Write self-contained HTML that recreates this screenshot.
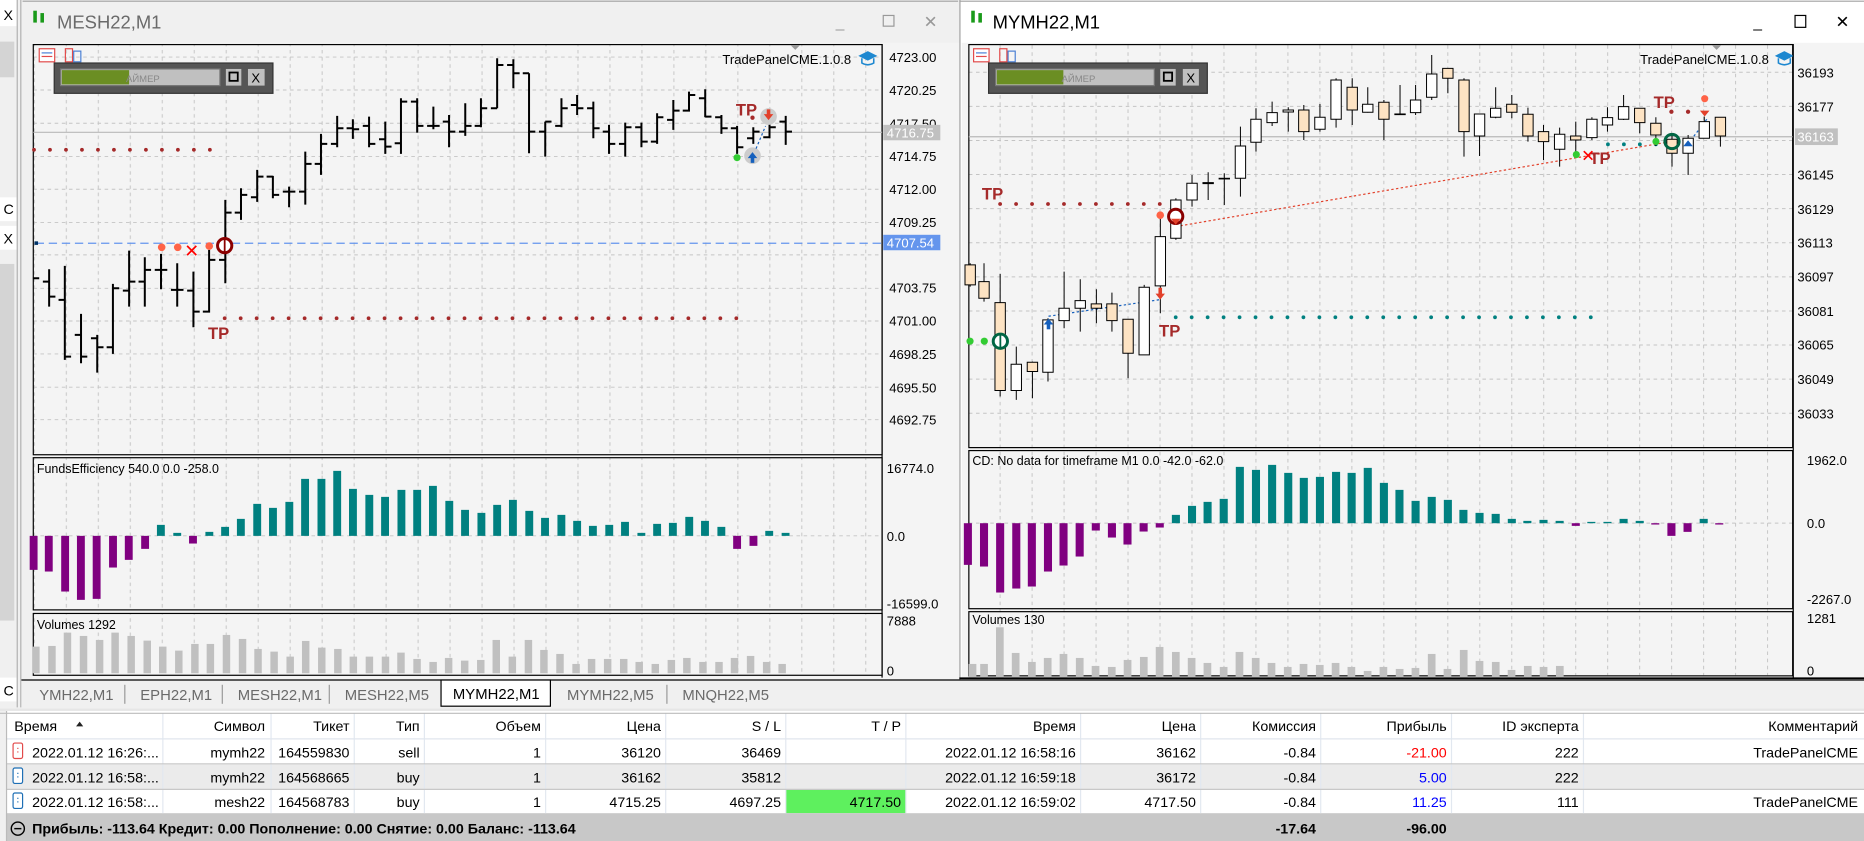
<!DOCTYPE html>
<html><head><meta charset="utf-8"><style>
html,body{margin:0;padding:0;background:#f0f0f0;overflow:hidden}
svg{display:block}
text{font-family:"Liberation Sans","DejaVu Sans",sans-serif}
</style></head><body>
<svg width="1864" height="841" viewBox="0 0 1568 707.4" preserveAspectRatio="none" xmlns="http://www.w3.org/2000/svg">
<defs>
<pattern id="gl" width="26.9" height="400" patternUnits="userSpaceOnUse" x="1.5" y="0"><line x1="0.5" y1="0" x2="0.5" y2="400" stroke="#c4c4c4" stroke-width="0.8" stroke-dasharray="3 3"/></pattern>
</defs>
<rect x="0" y="0" width="18" height="707" fill="#f0f0f0"/>
<rect x="0" y="0" width="14" height="22" fill="#fff"/>
<text x="3" y="17" font-size="12">X</text>
<rect x="0" y="35" width="12" height="30" fill="#d4d4d4"/>
<rect x="0" y="166" width="14" height="20" fill="#fff"/>
<text x="3" y="180" font-size="12">C</text>
<rect x="0" y="190" width="14" height="20" fill="#fff"/>
<text x="3" y="205" font-size="12">X</text>
<rect x="0" y="222" width="12" height="300" fill="#d4d4d4"/>
<rect x="0" y="570" width="14" height="20" fill="#fff"/>
<text x="3" y="585" font-size="12">C</text>
<line x1="14.5" y1="0" x2="14.5" y2="595" stroke="#b0b0b0"/>
<line x1="17.5" y1="0" x2="17.5" y2="595" stroke="#b0b0b0"/>

<rect x="19" y="0" width="787" height="572" fill="#f0f0f0"/>
<line x1="19" y1="1" x2="806" y2="1" stroke="#a0a0a0"/>
<rect x="28" y="9" width="3" height="10" fill="#1a9a1a"/><rect x="34" y="11" width="3" height="8" fill="#1a9a1a"/>
<text x="48" y="24" font-size="15.5" fill="#6a6a6a">MESH22,M1</text>
<text x="703" y="23" font-size="13" fill="#999">_</text>
<rect x="743" y="13" width="9" height="9" fill="none" stroke="#999"/>
<text x="777" y="23" font-size="14" fill="#999">✕</text>
<rect x="27" y="36" width="780" height="536" fill="#f4f4f4"/>
<rect x="28" y="37.5" width="714" height="345" fill="url(#gl)"/>
<rect x="28" y="385" width="714" height="128" fill="url(#gl)"/>
<rect x="28" y="516" width="714" height="52" fill="url(#gl)"/>
<g stroke="#c4c4c4" stroke-width="0.8" stroke-dasharray="3 3">
<line x1="28" x2="742" y1="48" y2="48"/><line x1="28" x2="742" y1="75.7" y2="75.7"/><line x1="28" x2="742" y1="103.7" y2="103.7"/><line x1="28" x2="742" y1="131.7" y2="131.7"/><line x1="28" x2="742" y1="159.2" y2="159.2"/><line x1="28" x2="742" y1="187.2" y2="187.2"/><line x1="28" x2="742" y1="214.4" y2="214.4"/><line x1="28" x2="742" y1="242.5" y2="242.5"/><line x1="28" x2="742" y1="270" y2="270"/><line x1="28" x2="742" y1="297.7" y2="297.7"/><line x1="28" x2="742" y1="325.7" y2="325.7"/><line x1="28" x2="742" y1="353" y2="353"/>
<line x1="28" x2="742" y1="450.7" y2="450.7"/>
</g>
<rect x="28" y="37.5" width="714" height="345" fill="none" stroke="#000"/>
<rect x="28" y="385" width="714" height="128" fill="none" stroke="#000"/>
<rect x="28" y="516" width="714" height="52" fill="none" stroke="#000"/>
<line x1="742" y1="37" x2="742" y2="570" stroke="#000"/>
<g font-size="11" fill="#000">
<text x="748" y="52">4723.00</text><text x="748" y="80">4720.25</text><text x="748" y="108">4717.50</text><text x="748" y="135.5">4714.75</text><text x="748" y="163">4712.00</text><text x="748" y="191">4709.25</text><text x="748" y="246">4703.75</text><text x="748" y="274">4701.00</text><text x="748" y="302">4698.25</text><text x="748" y="330">4695.50</text><text x="748" y="357">4692.75</text>
<text x="746" y="398">16774.0</text><text x="746" y="455">0.0</text><text x="746" y="512">-16599.0</text>
<text x="746" y="526">7888</text><text x="746" y="568">0</text>
</g>
<rect x="743" y="105" width="48" height="13" fill="#c0c0c0"/><text x="746" y="115.5" font-size="11" fill="#fff">4716.75</text>
<rect x="743" y="197.5" width="48" height="13" fill="#6495ed"/><text x="746" y="208" font-size="11" fill="#fff">4707.54</text>
<line x1="28" y1="111.3" x2="742" y2="111.3" stroke="#b8b8b8"/>
<line x1="30" y1="204.6" x2="742" y2="204.6" stroke="#6495ed" stroke-dasharray="7 4"/>
<rect x="29" y="203" width="3" height="3" fill="#036"/>
<line x1="28.6" y1="126" x2="178" y2="126" stroke="#a52a2a" stroke-width="3.2" stroke-linecap="round" stroke-dasharray="0 13.45"/>
<line x1="189" y1="267.7" x2="622" y2="267.7" stroke="#a52a2a" stroke-width="3.2" stroke-linecap="round" stroke-dasharray="0 13.45"/>
<g transform="translate(0,33.6) scale(0.43975,0.28035)" stroke="#000" fill="none">
<g stroke-width="2" vector-effect="non-scaling-stroke">
<path vector-effect="non-scaling-stroke" d="M63 715h12 M94 688v112M82 725h12M94 770h12 M124 678v282M112 780h12M124 950h12 M155 822v148M143 885h12M155 950h12 M186 885v113M174 895h12M186 922h12 M216 732v210M204 922h12M216 745h12 M247 632v168M235 752h12M247 725h12 M277 652v148M265 725h12M277 690h12 M308 642v106M296 690h12M308 690h12 M339 670v130M327 750h12M339 750h12 M370 695v167M358 752h12M370 815h12 M400 630v188M388 815h12M400 660h12 M431 480v250M419 660h12M431 518h12 M461 445v95M449 518h12M461 465h12 M492 390v96M480 472h12M492 410h12 M522 408v67M510 410h12M522 465h12 M553 440v62M541 455h12M553 455h12 M584 335v159M572 455h12M584 372h12 M614 282v123M602 372h12M614 312h12 M645 228v94M633 312h12M645 265h12 M675 238v59M663 265h12M675 268h12 M706 230v92M694 258h12M706 312h12 M737 245v97M725 298h12M737 320h12 M767 175v167M755 310h12M767 185h12 M798 175v103M786 185h12M798 258h12 M829 200v68M817 258h12M829 258h12 M859 225v97M847 245h12M859 275h12 M890 190v98M878 275h12M890 258h12 M920 175v87M908 258h12M920 205h12 M951 55v150M939 205h12M951 75h12 M982 58v87M970 75h12M982 100h12 M1012 100v240M1000 100h12M1012 275h12 M1043 245v105M1031 275h12M1043 245h12 M1074 175v87M1062 258h12M1074 205h12 M1104 165v60M1092 195h12M1104 205h12 M1135 185v110M1123 205h12M1135 265h12 M1165 255v87M1153 275h12M1165 312h12 M1196 248v102M1184 312h12M1196 262h12 M1227 248v74M1215 262h12M1227 305h12 M1257 220v92M1245 305h12M1257 232h12 M1288 180v90M1276 240h12M1288 212h12 M1318 155v60M1306 212h12M1318 165h12 M1349 148v84M1337 175h12M1349 230h12 M1380 225v57M1368 232h12M1380 265h12 M1410 258v84M1398 265h12M1410 322h12 M1441 262v50M1429 295h12M1441 275h12 M1472 242v53M1460 292h12M1472 262h12 M1503 228v87M1491 245h12M1503 275h12"/>
</g></g>
<circle cx="136" cy="208" r="3.2" fill="#ff6347"/><circle cx="149.5" cy="208" r="3.2" fill="#ff6347"/><circle cx="176" cy="207" r="3.2" fill="#ff6347"/>
<text x="155" y="216" font-size="15" font-weight="bold" fill="#f00">✕</text>
<circle cx="189" cy="206.6" r="6" fill="#fff" stroke="#8b0000" stroke-width="2.5"/><line x1="189" y1="201" x2="189" y2="212" stroke="#8b0000" stroke-width="1.5"/>
<text x="175" y="285" font-size="14" font-weight="bold" fill="#a52a2a">TP</text>
<text x="619" y="97" font-size="14" font-weight="bold" fill="#a52a2a">TP</text>
<circle cx="633" cy="99" r="1.8" fill="#a52a2a"/>
<circle cx="646.5" cy="98" r="7" fill="#ccc"/><path d="M642.5 96h8l-4 5z" fill="#e2402a"/><rect x="645" y="92" width="3" height="5" fill="#e2402a"/>
<circle cx="633" cy="131" r="7" fill="#ccc"/><path d="M629 133h8l-4-5z" fill="#1560bd"/><rect x="631.5" y="132" width="3" height="5" fill="#1560bd"/>
<circle cx="620" cy="132.6" r="3" fill="#3c3"/>
<line x1="636" y1="125" x2="644" y2="106" stroke="#1560bd" stroke-dasharray="2 2"/>
<rect x="33" y="41" width="13" height="11" fill="#fff" stroke="#e24a4a"/><line x1="35" y1="44.5" x2="44" y2="44.5" stroke="#4a7fd4"/><line x1="35" y1="47.5" x2="44" y2="47.5" stroke="#e24a4a"/>
<rect x="55" y="41" width="6" height="11" fill="none" stroke="#e24a4a"/><rect x="62" y="43" width="6" height="9" fill="none" stroke="#4a7fd4"/>
<rect x="45.6" y="53" width="184" height="25.5" fill="#555" stroke="#333"/>
<rect x="51" y="58" width="134" height="14" fill="#c0c0c0" stroke="#777"/>
<rect x="52" y="59" width="56.6" height="12" fill="#6b8e23"/>
<text x="106" y="69" font-size="8" fill="#888">АЙМЕР</text>
<rect x="190" y="58" width="13" height="14" fill="#c0c0c0"/><rect x="193" y="61" width="7" height="7" fill="none" stroke="#000" stroke-width="1.5"/>
<rect x="208.6" y="58" width="14" height="14" fill="#c0c0c0"/><text x="211.5" y="69.5" font-size="11">X</text>
<text x="716" y="54" font-size="11" text-anchor="end">TradePanelCME.1.0.8</text>
<path d="M722 47l8-4 8 4-8 4z" fill="#1e88d0"/><path d="M725 49v4q5 3 10 0v-4" fill="none" stroke="#1e88d0" stroke-width="1.3"/>
<path d="M665 38h8l-4 4z" fill="#999"/>
<text x="31" y="398" font-size="10.5">FundsEfficiency 540.0 0.0 -258.0</text>
<g transform="translate(0,370) scale(0.5097,0.28035)">
<g fill="#800080">
<rect x="49" y="288" width="13" height="102"/><rect x="74" y="288" width="13" height="107"/><rect x="101" y="288" width="13" height="167"/><rect x="127" y="288" width="13" height="192"/><rect x="153" y="288" width="13" height="189"/><rect x="180" y="288" width="13" height="95"/><rect x="206" y="288" width="13" height="72"/><rect x="233" y="288" width="13" height="39"/><rect x="312" y="288" width="13" height="23"/><rect x="1210" y="288" width="13" height="39"/><rect x="1237" y="288" width="13" height="30"/>
</g>
<g fill="#008080">
<rect x="259" y="255" width="13" height="33"/><rect x="286" y="279" width="13" height="9"/><rect x="339" y="276" width="13" height="12"/><rect x="365" y="261" width="13" height="27"/><rect x="391" y="237" width="13" height="51"/><rect x="418" y="192" width="13" height="96"/><rect x="444" y="204" width="13" height="84"/><rect x="471" y="186" width="13" height="102"/><rect x="497" y="117" width="13" height="171"/><rect x="524" y="117" width="13" height="171"/><rect x="550" y="93" width="13" height="195"/><rect x="576" y="147" width="13" height="141"/><rect x="603" y="165" width="13" height="123"/><rect x="629" y="171" width="13" height="117"/><rect x="656" y="150" width="13" height="138"/><rect x="682" y="150" width="13" height="138"/><rect x="708" y="138" width="13" height="150"/><rect x="735" y="183" width="13" height="105"/><rect x="761" y="210" width="13" height="78"/><rect x="788" y="219" width="13" height="69"/><rect x="814" y="195" width="13" height="93"/><rect x="840" y="180" width="13" height="108"/><rect x="867" y="213" width="13" height="75"/><rect x="893" y="234" width="13" height="54"/><rect x="920" y="225" width="13" height="63"/><rect x="946" y="243" width="13" height="45"/><rect x="972" y="258" width="13" height="30"/><rect x="999" y="255" width="13" height="33"/><rect x="1025" y="246" width="13" height="42"/><rect x="1052" y="279" width="13" height="9"/><rect x="1078" y="252" width="13" height="36"/><rect x="1104" y="249" width="13" height="39"/><rect x="1131" y="231" width="13" height="57"/><rect x="1157" y="243" width="13" height="45"/><rect x="1184" y="261" width="13" height="27"/><rect x="1263" y="273" width="13" height="15"/><rect x="1290" y="279" width="13" height="9"/>
</g></g>
<text x="31" y="529" font-size="10.5">Volumes 1292</text>
<g transform="translate(0,471) scale(0.4829,0.28035)" fill="#c0c0c0">
<rect x="56" y="260" width="13" height="80"/><rect x="84" y="258" width="13" height="82"/><rect x="111" y="218" width="13" height="122"/><rect x="139" y="228" width="13" height="112"/><rect x="167" y="240" width="13" height="100"/><rect x="194" y="218" width="13" height="122"/><rect x="222" y="228" width="13" height="112"/><rect x="250" y="242" width="13" height="98"/><rect x="277" y="260" width="13" height="80"/><rect x="305" y="272" width="13" height="68"/><rect x="333" y="252" width="13" height="88"/><rect x="360" y="252" width="13" height="88"/><rect x="388" y="225" width="13" height="115"/><rect x="416" y="237" width="13" height="103"/><rect x="443" y="267" width="13" height="73"/><rect x="471" y="275" width="13" height="65"/><rect x="499" y="290" width="13" height="50"/><rect x="526" y="243" width="13" height="97"/><rect x="554" y="263" width="13" height="77"/><rect x="582" y="267" width="13" height="73"/><rect x="609" y="290" width="13" height="50"/><rect x="637" y="290" width="13" height="50"/><rect x="665" y="290" width="13" height="50"/><rect x="692" y="278" width="13" height="62"/><rect x="720" y="297" width="13" height="43"/><rect x="748" y="306" width="13" height="34"/><rect x="775" y="294" width="13" height="46"/><rect x="803" y="302" width="13" height="38"/><rect x="831" y="300" width="13" height="40"/><rect x="858" y="240" width="13" height="100"/><rect x="886" y="290" width="13" height="50"/><rect x="914" y="240" width="13" height="100"/><rect x="941" y="270" width="13" height="70"/><rect x="969" y="282" width="13" height="58"/><rect x="997" y="312" width="13" height="28"/><rect x="1024" y="297" width="13" height="43"/><rect x="1052" y="297" width="13" height="43"/><rect x="1080" y="297" width="13" height="43"/><rect x="1107" y="306" width="13" height="34"/><rect x="1135" y="312" width="13" height="28"/><rect x="1163" y="300" width="13" height="40"/><rect x="1190" y="294" width="13" height="46"/><rect x="1218" y="306" width="13" height="34"/><rect x="1246" y="306" width="13" height="34"/><rect x="1273" y="294" width="13" height="46"/><rect x="1301" y="288" width="13" height="52"/><rect x="1329" y="306" width="13" height="34"/><rect x="1356" y="312" width="13" height="28"/>
</g>

<rect x="807" y="0" width="761" height="572" fill="#fff"/>
<line x1="807" y1="1" x2="1568" y2="1" stroke="#a0a0a0"/>
<line x1="807.5" y1="0" x2="807.5" y2="572" stroke="#a0a0a0"/>
<rect x="817" y="9" width="3" height="10" fill="#1a9a1a"/><rect x="823" y="11" width="3" height="8" fill="#1a9a1a"/>
<text x="835" y="24" font-size="15.5" fill="#000">MYMH22,M1</text>
<text x="1475" y="23" font-size="13">_</text>
<rect x="1510" y="13" width="9" height="10" fill="none" stroke="#000"/>
<text x="1544" y="23" font-size="14">✕</text>
<rect x="809" y="36" width="759" height="536" fill="#f4f4f4"/>
<g stroke="#c4c4c4" stroke-width="0.8" stroke-dasharray="3 3">
<line x1="841.3" x2="841.3" y1="38" y2="568"/><line x1="868.2" x2="868.2" y1="38" y2="568"/><line x1="895.1" x2="895.1" y1="38" y2="568"/><line x1="922" x2="922" y1="38" y2="568"/><line x1="948.9" x2="948.9" y1="38" y2="568"/><line x1="975.8" x2="975.8" y1="38" y2="568"/><line x1="1002.7" x2="1002.7" y1="38" y2="568"/><line x1="1029.6" x2="1029.6" y1="38" y2="568"/><line x1="1056.5" x2="1056.5" y1="38" y2="568"/><line x1="1083.4" x2="1083.4" y1="38" y2="568"/><line x1="1110.3" x2="1110.3" y1="38" y2="568"/><line x1="1137.2" x2="1137.2" y1="38" y2="568"/><line x1="1164.1" x2="1164.1" y1="38" y2="568"/><line x1="1191" x2="1191" y1="38" y2="568"/><line x1="1217.9" x2="1217.9" y1="38" y2="568"/><line x1="1244.8" x2="1244.8" y1="38" y2="568"/><line x1="1271.7" x2="1271.7" y1="38" y2="568"/><line x1="1298.6" x2="1298.6" y1="38" y2="568"/><line x1="1325.5" x2="1325.5" y1="38" y2="568"/><line x1="1352.4" x2="1352.4" y1="38" y2="568"/><line x1="1379.3" x2="1379.3" y1="38" y2="568"/><line x1="1406.2" x2="1406.2" y1="38" y2="568"/><line x1="1433.1" x2="1433.1" y1="38" y2="568"/><line x1="1460" x2="1460" y1="38" y2="568"/><line x1="1486.9" x2="1486.9" y1="38" y2="568"/>
<line x1="815" x2="1508" y1="60.8" y2="60.8"/><line x1="815" x2="1508" y1="89.5" y2="89.5"/><line x1="815" x2="1508" y1="118.2" y2="118.2"/><line x1="815" x2="1508" y1="146.8" y2="146.8"/><line x1="815" x2="1508" y1="175.5" y2="175.5"/><line x1="815" x2="1508" y1="204.2" y2="204.2"/><line x1="815" x2="1508" y1="232.9" y2="232.9"/><line x1="815" x2="1508" y1="261.6" y2="261.6"/><line x1="815" x2="1508" y1="290.2" y2="290.2"/><line x1="815" x2="1508" y1="318.9" y2="318.9"/><line x1="815" x2="1508" y1="347.6" y2="347.6"/>
<line x1="815" x2="1508" y1="440" y2="440"/>
</g>
<rect x="815" y="37.5" width="693" height="339" fill="none" stroke="#000"/>
<rect x="815" y="379" width="693" height="133" fill="none" stroke="#000"/>
<rect x="815" y="514.5" width="693" height="54" fill="none" stroke="#000"/>
<g font-size="11">
<text x="1512" y="65">36193</text><text x="1512" y="94">36177</text><text x="1512" y="151">36145</text><text x="1512" y="180">36129</text><text x="1512" y="208">36113</text><text x="1512" y="237">36097</text><text x="1512" y="266">36081</text><text x="1512" y="294">36065</text><text x="1512" y="323">36049</text><text x="1512" y="352">36033</text>
<text x="1520" y="391">1962.0</text><text x="1520" y="444">0.0</text><text x="1520" y="508">-2267.0</text>
<text x="1520" y="524">1281</text><text x="1520" y="568">0</text>
</g>
<rect x="1510" y="108" width="36" height="14" fill="#c0c0c0"/><text x="1512" y="119" font-size="11" fill="#fff">36163</text>
<line x1="815" y1="115" x2="1508" y2="115" stroke="#b8b8b8"/>
<line x1="841.3" y1="171.6" x2="976" y2="171.6" stroke="#a52a2a" stroke-width="3.2" stroke-linecap="round" stroke-dasharray="0 13.43"/>
<line x1="989" y1="266.9" x2="1340" y2="266.9" stroke="#008080" stroke-width="3.2" stroke-linecap="round" stroke-dasharray="0 13.43"/>
<line x1="1352.6" y1="121.4" x2="1394" y2="121.4" stroke="#008080" stroke-width="3.2" stroke-linecap="round" stroke-dasharray="0 13.43"/>
<line x1="989" y1="190.6" x2="1406" y2="119" stroke="#e2402a" stroke-dasharray="2 2"/>
<line x1="882" y1="266" x2="976" y2="252" stroke="#1560bd" stroke-dasharray="2 2"/>
<line x1="1420" y1="121" x2="1436" y2="100" stroke="#1560bd" stroke-dasharray="2 2"/>
<g transform="translate(807.4,0) scale(0.4847,0.2803)" stroke="#000">
<g stroke-width="1" fill="none">
<path vector-effect="non-scaling-stroke" d="M18 790v70M42 790v115M70 822v368M98 1040v160M126 1085v110M153 955v190M181 815v170M209 838v157M237 868v102M264 878v117M292 958v177M320 855v210M348 655v285M375 595v125M403 525v95M431 517v83M459 520v95M487 380v210M514 325v130M542 305v73M570 322v73M597 315v105M625 312v83M653 235v148M681 235v140M708 262v76M736 300v120M764 255v90M791 255v90M819 165v135M847 205v75M875 235v235M902 342v126M930 262v93M958 285v70M986 323v102M1013 375v105M1041 383v117M1069 365v95M1097 352v68M1124 322v73M1152 285v75M1180 325v75M1208 352v86M1236 400v100M1264 405v120M1292 350v65M1320 352v88"/>
</g>
<g stroke-width="1">
<rect vector-effect="non-scaling-stroke" fill="#fde3c3" x="9" y="795" width="18" height="60"/>
<rect vector-effect="non-scaling-stroke" fill="#fde3c3" x="33" y="845" width="18" height="50"/>
<rect vector-effect="non-scaling-stroke" fill="#fde3c3" x="61" y="908" width="18" height="264"/>
<rect vector-effect="non-scaling-stroke" fill="#fff" x="89" y="1093" width="18" height="79"/>
<rect vector-effect="non-scaling-stroke" fill="#fde3c3" x="117" y="1087" width="18" height="28"/>
<rect vector-effect="non-scaling-stroke" fill="#fff" x="144" y="960" width="18" height="157"/>
<rect vector-effect="non-scaling-stroke" fill="#fff" x="172" y="925" width="18" height="37"/>
<rect vector-effect="non-scaling-stroke" fill="#fff" x="200" y="902" width="18" height="23"/>
<rect vector-effect="non-scaling-stroke" fill="#fde3c3" x="228" y="912" width="18" height="13"/>
<rect vector-effect="non-scaling-stroke" fill="#fde3c3" x="255" y="912" width="18" height="50"/>
<rect vector-effect="non-scaling-stroke" fill="#fde3c3" x="283" y="958" width="18" height="102"/>
<rect vector-effect="non-scaling-stroke" fill="#fff" x="311" y="862" width="18" height="203"/>
<rect vector-effect="non-scaling-stroke" fill="#fff" x="339" y="710" width="18" height="148"/>
<rect vector-effect="non-scaling-stroke" fill="#fff" x="366" y="600" width="18" height="115"/>
<rect vector-effect="non-scaling-stroke" fill="#fff" x="394" y="550" width="18" height="50"/>
<rect vector-effect="non-scaling-stroke" fill="#fff" x="422" y="548" width="18" height="3"/>
<rect vector-effect="non-scaling-stroke" fill="#fff" x="450" y="535" width="18" height="2"/>
<rect vector-effect="non-scaling-stroke" fill="#fff" x="478" y="438" width="18" height="97"/>
<rect vector-effect="non-scaling-stroke" fill="#fff" x="505" y="358" width="18" height="69"/>
<rect vector-effect="non-scaling-stroke" fill="#fff" x="533" y="338" width="18" height="30"/>
<rect vector-effect="non-scaling-stroke" fill="#fff" x="561" y="330" width="18" height="6"/>
<rect vector-effect="non-scaling-stroke" fill="#fde3c3" x="588" y="330" width="18" height="65"/>
<rect vector-effect="non-scaling-stroke" fill="#fff" x="616" y="352" width="18" height="36"/>
<rect vector-effect="non-scaling-stroke" fill="#fff" x="644" y="240" width="18" height="118"/>
<rect vector-effect="non-scaling-stroke" fill="#fde3c3" x="672" y="262" width="18" height="68"/>
<rect vector-effect="non-scaling-stroke" fill="#fff" x="699" y="313" width="18" height="24"/>
<rect vector-effect="non-scaling-stroke" fill="#fde3c3" x="727" y="307" width="18" height="51"/>
<rect vector-effect="non-scaling-stroke" fill="#fff" x="755" y="342" width="18" height="2"/>
<rect vector-effect="non-scaling-stroke" fill="#fff" x="782" y="300" width="18" height="38"/>
<rect vector-effect="non-scaling-stroke" fill="#fff" x="810" y="222" width="18" height="70"/>
<rect vector-effect="non-scaling-stroke" fill="#fde3c3" x="838" y="205" width="18" height="30"/>
<rect vector-effect="non-scaling-stroke" fill="#fde3c3" x="866" y="240" width="18" height="155"/>
<rect vector-effect="non-scaling-stroke" fill="#fff" x="893" y="342" width="18" height="66"/>
<rect vector-effect="non-scaling-stroke" fill="#fff" x="921" y="325" width="18" height="27"/>
<rect vector-effect="non-scaling-stroke" fill="#fde3c3" x="949" y="313" width="18" height="24"/>
<rect vector-effect="non-scaling-stroke" fill="#fde3c3" x="977" y="343" width="18" height="65"/>
<rect vector-effect="non-scaling-stroke" fill="#fde3c3" x="1004" y="395" width="18" height="30"/>
<rect vector-effect="non-scaling-stroke" fill="#fff" x="1032" y="403" width="18" height="45"/>
<rect vector-effect="non-scaling-stroke" fill="#fde3c3" x="1060" y="408" width="18" height="12"/>
<rect vector-effect="non-scaling-stroke" fill="#fff" x="1088" y="358" width="18" height="55"/>
<rect vector-effect="non-scaling-stroke" fill="#fff" x="1115" y="353" width="18" height="22"/>
<rect vector-effect="non-scaling-stroke" fill="#fff" x="1143" y="320" width="18" height="38"/>
<rect vector-effect="non-scaling-stroke" fill="#fde3c3" x="1171" y="325" width="18" height="43"/>
<rect vector-effect="non-scaling-stroke" fill="#fde3c3" x="1199" y="370" width="18" height="35"/>
<rect vector-effect="non-scaling-stroke" fill="#fde3c3" x="1227" y="418" width="18" height="42"/>
<rect vector-effect="non-scaling-stroke" fill="#fff" x="1255" y="415" width="18" height="45"/>
<rect vector-effect="non-scaling-stroke" fill="#fff" x="1283" y="365" width="18" height="50"/>
<rect vector-effect="non-scaling-stroke" fill="#fde3c3" x="1311" y="352" width="18" height="56"/>
</g></g>
<text x="826" y="168" font-size="14" font-weight="bold" fill="#a52a2a">TP</text>
<text x="975" y="283" font-size="14" font-weight="bold" fill="#a52a2a">TP</text>
<text x="1391" y="91" font-size="14" font-weight="bold" fill="#a52a2a">TP</text>
<text x="1337" y="138" font-size="14" font-weight="bold" fill="#a52a2a">TP</text>
<text x="1330" y="136" font-size="14" font-weight="bold" fill="#f00">✕</text>
<circle cx="976" cy="181" r="3.2" fill="#ff6347"/>
<circle cx="989" cy="182" r="6" fill="#fff" stroke="#8b0000" stroke-width="2.5"/><path d="M985 184h8l-4 5z" fill="#e2402a"/>
<path d="M972 247h8l-4 5z" fill="#e2402a"/><rect x="974.5" y="242" width="3" height="6" fill="#e2402a"/>
<path d="M878 273h8l-4-5z" fill="#1560bd"/><rect x="880.5" y="272" width="3" height="5" fill="#1560bd"/>
<circle cx="816" cy="287" r="3" fill="#3c3"/><circle cx="828" cy="287" r="3" fill="#3c3"/>
<circle cx="841.5" cy="287" r="6" fill="#fff" stroke="#064" stroke-width="2.5"/><line x1="841.5" y1="282" x2="841.5" y2="293" stroke="#064" stroke-width="1.5"/>
<circle cx="1326" cy="130" r="3" fill="#3c3"/>
<circle cx="1393" cy="119" r="3" fill="#3c3"/>
<circle cx="1406.5" cy="119" r="6" fill="none" stroke="#064" stroke-width="2.5"/>
<path d="M1416 123h8l-4-5z" fill="#1560bd"/>
<circle cx="1434" cy="83" r="3" fill="#ff6347"/><path d="M1430 93h8l-4 5z" fill="#e2402a"/>
<circle cx="1406" cy="94" r="1.8" fill="#a52a2a"/><circle cx="1420" cy="94" r="1.8" fill="#a52a2a"/>
<rect x="819" y="41" width="13" height="11" fill="#fff" stroke="#e24a4a"/><line x1="821" y1="44.5" x2="830" y2="44.5" stroke="#4a7fd4"/><line x1="821" y1="47.5" x2="830" y2="47.5" stroke="#e24a4a"/>
<rect x="841" y="41" width="6" height="11" fill="none" stroke="#e24a4a"/><rect x="848" y="43" width="6" height="9" fill="none" stroke="#4a7fd4"/>
<rect x="831.6" y="53" width="184" height="25.5" fill="#555" stroke="#333"/>
<rect x="837.5" y="58" width="133.5" height="14" fill="#c0c0c0" stroke="#777"/>
<rect x="838.5" y="59" width="56" height="12" fill="#6b8e23"/>
<text x="893" y="69" font-size="8" fill="#888">АЙМЕР</text>
<rect x="976" y="58" width="13" height="14" fill="#c0c0c0"/><rect x="979" y="61" width="7" height="7" fill="none" stroke="#000" stroke-width="1.5"/>
<rect x="995" y="58" width="13.5" height="14" fill="#c0c0c0"/><text x="998" y="69.5" font-size="11">X</text>
<text x="1488" y="54" font-size="11" text-anchor="end">TradePanelCME.1.0.8</text>
<path d="M1493 47l8-4 8 4-8 4z" fill="#1e88d0"/><path d="M1496 49v4q5 3 10 0v-4" fill="none" stroke="#1e88d0" stroke-width="1.3"/>
<path d="M1440 38h8l-4 4z" fill="#999"/>
<text x="818" y="391" font-size="10.5">CD: No data for timeframe M1 0.0 -42.0 -62.0</text>
<g transform="translate(807.4,370) scale(0.4847,0.28035)">
<g fill="#800080">
<rect x="7" y="250" width="14" height="125"/><rect x="35" y="250" width="14" height="130"/><rect x="63" y="250" width="14" height="208"/><rect x="91" y="250" width="14" height="196"/><rect x="118" y="250" width="14" height="190"/><rect x="146" y="250" width="14" height="145"/><rect x="173" y="250" width="14" height="127"/><rect x="201" y="250" width="14" height="100"/><rect x="229" y="250" width="14" height="22"/><rect x="257" y="250" width="14" height="43"/><rect x="284" y="250" width="14" height="64"/><rect x="312" y="250" width="14" height="25"/><rect x="340" y="250" width="14" height="13"/><rect x="1062" y="250" width="14" height="8"/><rect x="1200" y="250" width="14" height="4"/><rect x="1228" y="250" width="14" height="38"/><rect x="1256" y="250" width="14" height="26"/><rect x="1311" y="250" width="14" height="4"/>
</g>
<g fill="#008080">
<rect x="368" y="225" width="14" height="25"/><rect x="396" y="198" width="14" height="52"/><rect x="423" y="186" width="14" height="64"/><rect x="451" y="177" width="14" height="73"/><rect x="479" y="81" width="14" height="169"/><rect x="507" y="90" width="14" height="160"/><rect x="535" y="75" width="14" height="175"/><rect x="563" y="99" width="14" height="151"/><rect x="590" y="114" width="14" height="136"/><rect x="618" y="111" width="14" height="139"/><rect x="646" y="96" width="14" height="154"/><rect x="673" y="99" width="14" height="151"/><rect x="701" y="84" width="14" height="166"/><rect x="729" y="129" width="14" height="121"/><rect x="756" y="150" width="14" height="100"/><rect x="784" y="183" width="14" height="67"/><rect x="812" y="171" width="14" height="79"/><rect x="840" y="180" width="14" height="70"/><rect x="867" y="210" width="14" height="40"/><rect x="895" y="219" width="14" height="31"/><rect x="923" y="222" width="14" height="28"/><rect x="951" y="237" width="14" height="13"/><rect x="978" y="243" width="14" height="7"/><rect x="1006" y="240" width="14" height="10"/><rect x="1034" y="243" width="14" height="7"/><rect x="1089" y="246" width="14" height="4"/><rect x="1117" y="246" width="14" height="4"/><rect x="1145" y="237" width="14" height="13"/><rect x="1173" y="243" width="14" height="7"/><rect x="1284" y="237" width="14" height="13"/>
</g></g>
<text x="818" y="525" font-size="10.5">Volumes 130</text>
<g transform="translate(757,471) scale(0.3593,0.28035)" fill="#c0c0c0">
<rect x="161" y="312" width="18" height="40"/><rect x="188" y="312" width="18" height="40"/><rect x="225" y="202" width="18" height="150"/><rect x="262" y="279" width="18" height="73"/><rect x="300" y="306" width="18" height="46"/><rect x="337" y="294" width="18" height="58"/><rect x="374" y="282" width="18" height="70"/><rect x="412" y="294" width="18" height="58"/><rect x="449" y="318" width="18" height="34"/><rect x="487" y="321" width="18" height="31"/><rect x="524" y="300" width="18" height="52"/><rect x="562" y="291" width="18" height="61"/><rect x="599" y="261" width="18" height="91"/><rect x="637" y="276" width="18" height="76"/><rect x="674" y="294" width="18" height="58"/><rect x="711" y="309" width="18" height="43"/><rect x="749" y="321" width="18" height="31"/><rect x="786" y="276" width="18" height="76"/><rect x="824" y="294" width="18" height="58"/><rect x="861" y="309" width="18" height="43"/><rect x="899" y="321" width="18" height="31"/><rect x="936" y="312" width="18" height="40"/><rect x="974" y="315" width="18" height="37"/><rect x="1011" y="309" width="18" height="43"/><rect x="1048" y="321" width="18" height="31"/><rect x="1086" y="333" width="18" height="19"/><rect x="1123" y="321" width="18" height="31"/><rect x="1161" y="327" width="18" height="25"/><rect x="1198" y="324" width="18" height="28"/><rect x="1236" y="282" width="18" height="70"/><rect x="1273" y="327" width="18" height="25"/><rect x="1311" y="270" width="18" height="82"/><rect x="1348" y="303" width="18" height="49"/><rect x="1386" y="306" width="18" height="46"/><rect x="1423" y="330" width="18" height="22"/><rect x="1461" y="318" width="18" height="34"/><rect x="1498" y="321" width="18" height="31"/><rect x="1536" y="318" width="18" height="34"/>
</g>
<line x1="1508.5" y1="37" x2="1508.5" y2="570" stroke="#000"/>
<line x1="807" y1="570.5" x2="1568" y2="570.5" stroke="#000" stroke-width="1.5"/>

<rect x="18" y="572" width="1550" height="24" fill="#f0f0f0"/>
<line x1="18" y1="572" x2="1568" y2="572" stroke="#000"/>
<g font-size="12.5" fill="#6a6a6a">
<text x="33" y="589">YMH22,M1</text><line x1="105" y1="576" x2="105" y2="592" stroke="#999"/>
<text x="118" y="589">EPH22,M1</text><line x1="187" y1="576" x2="187" y2="592" stroke="#999"/>
<text x="200" y="589">MESH22,M1</text><line x1="277" y1="576" x2="277" y2="592" stroke="#999"/>
<text x="290" y="589">MESH22,M5</text>
<rect x="371" y="572" width="92" height="22" fill="#fff" stroke="#000"/>
<text x="381" y="588" fill="#000">MYMH22,M1</text>
<text x="477" y="589">MYMH22,M5</text><line x1="561" y1="576" x2="561" y2="592" stroke="#999"/>
<text x="574" y="589">MNQH22,M5</text>
</g>
<rect x="0" y="596" width="1568" height="2" fill="#e6e6e6"/>

<rect x="5" y="598" width="1563" height="110" fill="#fff"/>
<rect x="5" y="642.6" width="1563" height="21.4" fill="#ebebeb"/>
<rect x="661" y="664" width="101" height="20" fill="#5ef05e"/>
<rect x="5" y="684" width="1563" height="24" fill="#c8c8c8"/>
<g stroke="#e2e8f0">
<line x1="137" y1="600" x2="137" y2="684"/><line x1="228" y1="600" x2="228" y2="684"/><line x1="298" y1="600" x2="298" y2="684"/><line x1="357" y1="600" x2="357" y2="684"/><line x1="459" y1="600" x2="459" y2="684"/><line x1="560" y1="600" x2="560" y2="684"/><line x1="661" y1="600" x2="661" y2="684"/><line x1="762" y1="600" x2="762" y2="684"/><line x1="909" y1="600" x2="909" y2="684"/><line x1="1010" y1="600" x2="1010" y2="684"/><line x1="1111" y1="600" x2="1111" y2="684"/><line x1="1221" y1="600" x2="1221" y2="684"/><line x1="1332" y1="600" x2="1332" y2="684"/>
</g>
<line x1="5" y1="621.5" x2="1568" y2="621.5" stroke="#e0e6ee"/>
<line x1="5" y1="642.5" x2="1568" y2="642.5" stroke="#c8c8c8"/>
<line x1="5" y1="664" x2="1568" y2="664" stroke="#c8c8c8"/>
<line x1="5.5" y1="598" x2="5.5" y2="708" stroke="#bbb"/>
<line x1="0" y1="600" x2="1568" y2="600" stroke="#bbb"/>
<g font-size="12" fill="#000">
<text x="12" y="615">Время</text><path d="M64 611l3-4 3 4z" fill="#222"/>
<g text-anchor="end">
<text x="223" y="615">Символ</text><text x="294" y="615">Тикет</text><text x="353" y="615">Тип</text><text x="455" y="615">Объем</text><text x="556" y="615">Цена</text><text x="657" y="615">S / L</text><text x="758" y="615">T / P</text><text x="905" y="615">Время</text><text x="1006" y="615">Цена</text><text x="1107" y="615">Комиссия</text><text x="1217" y="615">Прибыль</text><text x="1328" y="615">ID эксперта</text><text x="1563" y="615">Комментарий</text>
<text x="223" y="637">mymh22</text><text x="294" y="637">164559830</text><text x="353" y="637">sell</text><text x="455" y="637">1</text><text x="556" y="637">36120</text><text x="657" y="637">36469</text><text x="905" y="637">2022.01.12 16:58:16</text><text x="1006" y="637">36162</text><text x="1107" y="637">-0.84</text><text x="1217" y="637" fill="#f00">-21.00</text><text x="1328" y="637">222</text><text x="1563" y="637">TradePanelCME</text>
<text x="223" y="658">mymh22</text><text x="294" y="658">164568665</text><text x="353" y="658">buy</text><text x="455" y="658">1</text><text x="556" y="658">36162</text><text x="657" y="658">35812</text><text x="905" y="658">2022.01.12 16:59:18</text><text x="1006" y="658">36172</text><text x="1107" y="658">-0.84</text><text x="1217" y="658" fill="#00f">5.00</text><text x="1328" y="658">222</text>
<text x="223" y="679">mesh22</text><text x="294" y="679">164568783</text><text x="353" y="679">buy</text><text x="455" y="679">1</text><text x="556" y="679">4715.25</text><text x="657" y="679">4697.25</text><text x="758" y="679">4717.50</text><text x="905" y="679">2022.01.12 16:59:02</text><text x="1006" y="679">4717.50</text><text x="1107" y="679">-0.84</text><text x="1217" y="679" fill="#00f">11.25</text><text x="1328" y="679">111</text><text x="1563" y="679">TradePanelCME</text>
<text x="1107" y="701" font-weight="bold">-17.64</text><text x="1217" y="701" font-weight="bold">-96.00</text>
</g>
<text x="27" y="637">2022.01.12 16:26:...</text>
<text x="27" y="658">2022.01.12 16:58:...</text>
<text x="27" y="679">2022.01.12 16:58:...</text>
<text x="27" y="701" font-weight="bold">Прибыль: -113.64  Кредит: 0.00  Пополнение: 0.00  Снятие: 0.00  Баланс: -113.64</text>
</g>
<rect x="11" y="625" width="8" height="13" rx="1.5" fill="#fff" stroke="#e24a4a"/><line x1="15" y1="629" x2="15" y2="630" stroke="#e24a4a"/><line x1="15" y1="632" x2="15" y2="633" stroke="#e24a4a"/>
<rect x="11" y="646" width="8" height="13" rx="1.5" fill="#fff" stroke="#1e6fb5"/><line x1="15" y1="650" x2="15" y2="651" stroke="#1e6fb5"/><line x1="15" y1="653" x2="15" y2="654" stroke="#1e6fb5"/>
<rect x="11" y="667" width="8" height="13" rx="1.5" fill="#fff" stroke="#1e6fb5"/><line x1="15" y1="671" x2="15" y2="672" stroke="#1e6fb5"/><line x1="15" y1="674" x2="15" y2="675" stroke="#1e6fb5"/>
<circle cx="15" cy="697" r="5.5" fill="none" stroke="#000" stroke-width="1.2"/><line x1="12" y1="697" x2="18" y2="697" stroke="#000" stroke-width="1.2"/>
</svg>
</body></html>
